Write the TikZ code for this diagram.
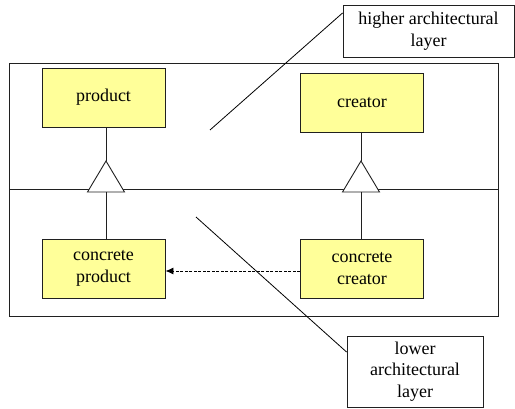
\documentclass[tikz,border=0pt]{standalone}
\usepackage{fontspec}
\setmainfont{LiberationSerif}[Extension=.ttf, UprightFont=*-Regular]
\usetikzlibrary{arrows.meta}
\definecolor{classfill}{HTML}{FFFF99}
\definecolor{edge}{HTML}{202020}
\tikzset{
  cls/.style={draw=edge, line width=0.9pt, fill=classfill, minimum width=123pt,
    minimum height=59pt, inner sep=0pt, align=center,
    font=\fontsize{18}{21.5}\selectfont},
  note/.style={draw=edge, line width=0.9pt, fill=white, inner sep=0pt, align=center,
    font=\fontsize{18}{21.5}\selectfont},
  frame/.style={draw=edge, line width=0.8pt},
  link/.style={draw=edge, line width=0.9pt},
  pointer/.style={draw=black, line width=0.8pt},
  inherit/.style={draw=edge, line width=0.9pt, fill=white},
  dep/.style={draw=black, line width=0.9pt, dash pattern=on 3pt off 1.5pt,
    -{Latex[length=8pt,width=7pt]}}
}
\begin{document}
\begin{tikzpicture}[x=1pt, y=-1pt]
\useasboundingbox (0,0) rectangle (515,409);

% layer frame and the line between the two layers
\draw[frame] (9,63) rectangle (498,316);
\coordinate (divL) at (9,189);
\coordinate (divR) at (499,189);
\draw[frame] (divL) -- (divR);

% classes
\node[cls] (prod) at (103.5,97.5) {product};
\node[cls] (crea) at (362,102.5) {creator};
\node[cls] (cprod) at (103.5,268.5) {concrete\\product};
\node[cls] (ccrea) at (362,268.5) {concrete\\creator};

% generalisation triangles
\coordinate (t1) at (106,161);
\coordinate (t1b) at (106,192);
\coordinate (t2) at (361,161);
\coordinate (t2b) at (361,192);
\draw[inherit] (t1) -- (87.5,192) -- (124.5,192) -- cycle;
\draw[inherit] (t2) -- (342.5,192) -- (379.5,192) -- cycle;
\draw[link] (t1 |- prod.south) -- (t1);
\draw[link] (t1b) -- (t1b |- cprod.north);
\draw[link] (t2 |- crea.south) -- (t2);
\draw[link] (t2b) -- (t2b |- ccrea.north);

% dependency: concrete creator -> concrete product
\coordinate (dy) at (0,271);
\draw[dep] (ccrea.west |- dy) -- (cprod.east |- dy);

% layer labels
\node[note, minimum width=171pt, minimum height=52pt] (hi) at (428.5,31) {higher architectural\\layer};
\node[note, minimum width=136pt, minimum height=71pt] (lo) at (415,371.5) {lower\\architectural\\layer};
\coordinate (hiTip) at (210,130);
\coordinate (loTip) at (196,217);
\draw[pointer] (hiTip) -- (hi.west |- 0,13);
\draw[pointer] (loTip) -- (lo.west |- 0,352);
\end{tikzpicture}
\end{document}
